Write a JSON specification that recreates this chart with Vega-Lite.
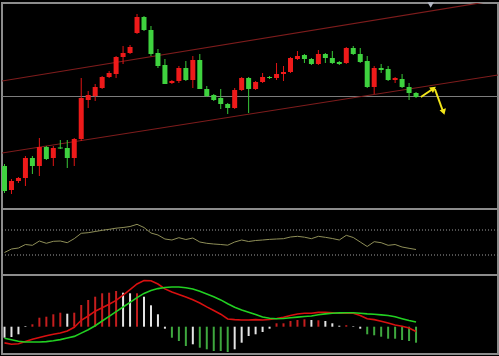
{
  "$schema": "https://vega.github.io/schema/vega-lite/v6.json",
  "background": "#000000",
  "padding": {"left": 0, "top": 1, "right": 1, "bottom": 2},
  "spacing": 0,
  "bounds": "flush",
  "config": {
    "view": {"stroke": "#8c8c8c", "strokeWidth": 2, "fill": "#000000"},
    "axis": {"disable": true},
    "concat": {"spacing": 0}
  },
  "datasets": {
    "bars": [
      {"i":0,"o":43,"h":45,"l":16,"c":18,"rsi":34,"hist":-11,"tone":"w","macd":-16.2,"sig":-11.6},
      {"i":1,"o":19,"h":30,"l":15,"c":28,"rsi":39.6,"hist":-10.3,"tone":"w","macd":-17.5,"sig":-13.1},
      {"i":2,"o":28,"h":32,"l":26,"c":31,"rsi":41.2,"hist":-7.6,"tone":"w","macd":-17,"sig":-14.5},
      {"i":3,"o":31,"h":53,"l":23,"c":51,"rsi":46.8,"hist":0.6,"tone":"w","macd":-14.8,"sig":-15.3},
      {"i":4,"o":51,"h":53,"l":35,"c":43,"rsi":45.5,"hist":2.4,"tone":"r","macd":-12.6,"sig":-15.3},
      {"i":5,"o":43,"h":71,"l":33,"c":62,"rsi":52.4,"hist":9,"tone":"r","macd":-10.8,"sig":-15.3},
      {"i":6,"o":62,"h":63,"l":49,"c":50,"rsi":48.7,"hist":10,"tone":"r","macd":-9,"sig":-14.9},
      {"i":7,"o":51,"h":63,"l":43,"c":61,"rsi":51.9,"hist":12.4,"tone":"r","macd":-7.5,"sig":-14.1},
      {"i":8,"o":61.5,"h":69,"l":60,"c":60.5,"rsi":52.4,"hist":14,"tone":"r","macd":-6.3,"sig":-12.9},
      {"i":9,"o":61,"h":69,"l":41,"c":51,"rsi":49.7,"hist":13,"tone":"w","macd":-4.3,"sig":-11.3},
      {"i":10,"o":51,"h":71,"l":43,"c":70,"rsi":56.2,"hist":14,"tone":"r","macd":-0.6,"sig":-9.7},
      {"i":11,"o":70,"h":131,"l":68,"c":111,"rsi":64.7,"hist":21.7,"tone":"r","macd":6.4,"sig":-6.4},
      {"i":12,"o":109,"h":118,"l":101,"c":114,"rsi":65.7,"hist":26.7,"tone":"r","macd":10.7,"sig":-3},
      {"i":13,"o":113,"h":125,"l":108,"c":122,"rsi":67.6,"hist":30,"tone":"r","macd":15.5,"sig":1},
      {"i":14,"o":121,"h":133,"l":120,"c":132,"rsi":69.5,"hist":33.4,"tone":"r","macd":19,"sig":5.7},
      {"i":15,"o":132,"h":138,"l":131,"c":136,"rsi":71.1,"hist":34,"tone":"r","macd":22.5,"sig":10.4},
      {"i":16,"o":135,"h":153,"l":131,"c":152,"rsi":72.9,"hist":35.7,"tone":"r","macd":26.3,"sig":15.1},
      {"i":17,"o":152,"h":163,"l":145,"c":156,"rsi":74,"hist":34,"tone":"w","macd":31.5,"sig":19.7},
      {"i":18,"o":156,"h":164,"l":155,"c":162,"rsi":75.6,"hist":33.4,"tone":"w","macd":37.1,"sig":24.4},
      {"i":19,"o":176,"h":195,"l":175,"c":192,"rsi":79.1,"hist":33.4,"tone":"r","macd":42.7,"sig":29.1},
      {"i":20,"o":192,"h":193,"l":178,"c":179,"rsi":74,"hist":30,"tone":"w","macd":46.2,"sig":33.3},
      {"i":21,"o":179,"h":183,"l":153,"c":155,"rsi":65.2,"hist":21.4,"tone":"w","macd":45.9,"sig":36.1},
      {"i":22,"o":156,"h":160,"l":141,"c":143,"rsi":62,"hist":12.4,"tone":"w","macd":42.7,"sig":38.1},
      {"i":23,"o":144,"h":150,"l":125,"c":125,"rsi":55.6,"hist":-2,"tone":"w","macd":37.8,"sig":39.2},
      {"i":24,"o":126,"h":129,"l":125,"c":128,"rsi":54,"hist":-11,"tone":"g","macd":34.7,"sig":39.7},
      {"i":25,"o":128,"h":143,"l":126,"c":141,"rsi":57.7,"hist":-14.3,"tone":"g","macd":32.3,"sig":39.7},
      {"i":26,"o":141,"h":148,"l":128,"c":129,"rsi":54.8,"hist":-19.3,"tone":"g","macd":29.7,"sig":39},
      {"i":27,"o":129,"h":153,"l":121,"c":149,"rsi":57.2,"hist":-17.6,"tone":"w","macd":26.9,"sig":37.7},
      {"i":28,"o":149,"h":155,"l":120,"c":120,"rsi":50.8,"hist":-21,"tone":"g","macd":23.7,"sig":35.4},
      {"i":29,"o":120,"h":123,"l":112,"c":113,"rsi":48.7,"hist":-22.6,"tone":"g","macd":19.8,"sig":32.7},
      {"i":30,"o":114,"h":115,"l":108,"c":109,"rsi":47.6,"hist":-24.3,"tone":"g","macd":16.2,"sig":29.9},
      {"i":31,"o":111,"h":120,"l":100,"c":105,"rsi":46.8,"hist":-24.3,"tone":"g","macd":12.5,"sig":26.8},
      {"i":32,"o":105,"h":106,"l":95,"c":101,"rsi":45.7,"hist":-25.3,"tone":"g","macd":7.7,"sig":23},
      {"i":33,"o":101,"h":121,"l":100,"c":119,"rsi":50.8,"hist":-22.6,"tone":"w","macd":7.1,"sig":19.5},
      {"i":34,"o":119,"h":132,"l":118,"c":131,"rsi":54,"hist":-16,"tone":"w","macd":6.7,"sig":16.7},
      {"i":35,"o":131,"h":132,"l":96,"c":120,"rsi":51.6,"hist":-9.3,"tone":"w","macd":6.7,"sig":14.4},
      {"i":36,"o":120,"h":128,"l":119,"c":127,"rsi":53.2,"hist":-7.6,"tone":"w","macd":7.1,"sig":12.1},
      {"i":37,"o":127,"h":136,"l":126,"c":132,"rsi":54,"hist":-5.3,"tone":"w","macd":6.7,"sig":9.7},
      {"i":38,"o":132,"h":133,"l":130,"c":131,"rsi":55,"hist":-2,"tone":"w","macd":7.2,"sig":8.4},
      {"i":39,"o":131,"h":146,"l":129,"c":135,"rsi":55.6,"hist":3.4,"tone":"r","macd":8.2,"sig":8},
      {"i":40,"o":135,"h":143,"l":128,"c":137,"rsi":56.1,"hist":3.4,"tone":"r","macd":9.5,"sig":8.2},
      {"i":41,"o":137,"h":152,"l":136,"c":151,"rsi":58.8,"hist":5.7,"tone":"r","macd":11.2,"sig":8.9},
      {"i":42,"o":150,"h":158,"l":149,"c":153,"rsi":59.9,"hist":6.7,"tone":"r","macd":12.7,"sig":9.6},
      {"i":43,"o":154,"h":155,"l":146,"c":150,"rsi":58.5,"hist":7.4,"tone":"r","macd":13.4,"sig":10.2},
      {"i":44,"o":150,"h":151,"l":144,"c":145,"rsi":56.1,"hist":6.7,"tone":"w","macd":13.4,"sig":10.7},
      {"i":45,"o":145,"h":159,"l":144,"c":155,"rsi":59.9,"hist":6.4,"tone":"r","macd":14.3,"sig":11.9},
      {"i":46,"o":155,"h":156,"l":146,"c":151,"rsi":58.3,"hist":5.7,"tone":"w","macd":14.4,"sig":12.8},
      {"i":47,"o":151,"h":158,"l":145,"c":146,"rsi":56.4,"hist":3.4,"tone":"w","macd":13.9,"sig":13.4},
      {"i":48,"o":147,"h":148,"l":144,"c":145,"rsi":54,"hist":1,"tone":"w","macd":13.5,"sig":13.8},
      {"i":49,"o":146,"h":162,"l":145,"c":161,"rsi":61.5,"hist":1.5,"tone":"r","macd":13.4,"sig":14},
      {"i":50,"o":161,"h":163,"l":154,"c":155,"rsi":58,"hist":0.5,"tone":"w","macd":13.4,"sig":13.9},
      {"i":51,"o":155,"h":161,"l":146,"c":147,"rsi":50.8,"hist":-2,"tone":"w","macd":11.2,"sig":13.4},
      {"i":52,"o":148,"h":153,"l":121,"c":122,"rsi":43.6,"hist":-7.6,"tone":"g","macd":7.9,"sig":12.8},
      {"i":53,"o":122,"h":143,"l":115,"c":141,"rsi":51.3,"hist":-8.6,"tone":"g","macd":7.1,"sig":12.4},
      {"i":54,"o":141,"h":145,"l":136,"c":139,"rsi":49.7,"hist":-10,"tone":"g","macd":5.5,"sig":11.8},
      {"i":55,"o":140,"h":143,"l":128,"c":129,"rsi":45.5,"hist":-12,"tone":"g","macd":3.7,"sig":11.2},
      {"i":56,"o":129,"h":132,"l":126,"c":131,"rsi":46.8,"hist":-12,"tone":"g","macd":1.7,"sig":9.9},
      {"i":57,"o":130,"h":135,"l":121,"c":122,"rsi":42.8,"hist":-13.3,"tone":"g","macd":0.4,"sig":8},
      {"i":58,"o":122,"h":126,"l":109,"c":116,"rsi":40.7,"hist":-14.3,"tone":"g","macd":-1.3,"sig":6.2},
      {"i":59,"o":116,"h":117,"l":111,"c":112,"rsi":38.8,"hist":-16,"tone":"g","macd":-4.8,"sig":4.7}
    ],
    "chan": [
      {"line":"upper","i":-0.358,"v":128},
      {"line":"upper","i":70.75,"v":209},
      {"line":"lower","i":-0.358,"v":56},
      {"line":"lower","i":70.75,"v":134}
    ],
    "arrows": [
      {"seg":"a","i":59.7,"v":112},
      {"seg":"a","i":61.5,"v":120.5},
      {"seg":"b","i":61.7,"v":120},
      {"seg":"b","i":62.9,"v":97}
    ]
  },
  "data": {"name": "bars"},
  "vconcat": [
    {
      "width": 496,
      "height": 206,
      "layer": [
        {
          "data": {"values": [{"level": 112.5}]},
          "mark": {"type": "rule", "color": "#7c7c7c", "strokeWidth": 1},
          "encoding": {
            "y": {"field": "level", "type": "quantitative", "scale": {"domain": [0, 206], "nice": false, "zero": false, "padding": 0}}
          }
        },
        {
          "data": {"name": "chan"},
          "mark": {"type": "line", "color": "#7e1c1c", "strokeWidth": 1.2, "clip": true},
          "encoding": {
            "x": {"field": "i", "type": "quantitative", "scale": {"domain": [-0.358, 70.75], "nice": false, "zero": false, "padding": 0}},
            "y": {"field": "v", "type": "quantitative", "scale": {"domain": [0, 206], "nice": false, "zero": false, "padding": 0}},
            "detail": {"field": "line"}
          }
        },
        {
          "mark": {"type": "rule", "strokeWidth": 1},
          "encoding": {
            "x": {"field": "i", "type": "quantitative", "scale": {"domain": [-0.358, 70.75], "nice": false, "zero": false, "padding": 0}},
            "y": {"field": "l", "type": "quantitative", "scale": {"domain": [0, 206], "nice": false, "zero": false, "padding": 0}},
            "y2": {"field": "h"},
            "color": {"condition": {"test": "datum.c > datum.o", "value": "#e01414"}, "value": "#38c838"}
          }
        },
        {
          "mark": {"type": "bar", "size": 5},
          "encoding": {
            "x": {"field": "i", "type": "quantitative", "scale": {"domain": [-0.358, 70.75], "nice": false, "zero": false, "padding": 0}},
            "y": {"field": "o", "type": "quantitative", "scale": {"domain": [0, 206], "nice": false, "zero": false, "padding": 0}},
            "y2": {"field": "c"},
            "color": {"condition": {"test": "datum.c > datum.o", "value": "#ee1a1a"}, "value": "#3fd23f"}
          }
        },
        {
          "data": {"name": "arrows"},
          "mark": {"type": "line", "color": "#f2e51a", "strokeWidth": 2},
          "encoding": {
            "x": {"field": "i", "type": "quantitative", "scale": {"domain": [-0.358, 70.75], "nice": false, "zero": false, "padding": 0}},
            "y": {"field": "v", "type": "quantitative", "scale": {"domain": [0, 206], "nice": false, "zero": false, "padding": 0}},
            "detail": {"field": "seg"}
          }
        },
        {
          "data": {"values": [{"i": 61.5, "v": 120.5}]},
          "mark": {"type": "point", "shape": "triangle-up", "filled": true, "size": 45, "angle": 55, "color": "#f2e51a", "opacity": 1},
          "encoding": {
            "x": {"field": "i", "type": "quantitative", "scale": {"domain": [-0.358, 70.75], "nice": false, "zero": false, "padding": 0}},
            "y": {"field": "v", "type": "quantitative", "scale": {"domain": [0, 206], "nice": false, "zero": false, "padding": 0}}
          }
        },
        {
          "data": {"values": [{"i": 62.95, "v": 97}]},
          "mark": {"type": "point", "shape": "triangle-up", "filled": true, "size": 45, "angle": 163, "color": "#f2e51a", "opacity": 1},
          "encoding": {
            "x": {"field": "i", "type": "quantitative", "scale": {"domain": [-0.358, 70.75], "nice": false, "zero": false, "padding": 0}},
            "y": {"field": "v", "type": "quantitative", "scale": {"domain": [0, 206], "nice": false, "zero": false, "padding": 0}}
          }
        },
        {
          "data": {"values": [{"i": 61.1, "v": 204}]},
          "mark": {"type": "point", "shape": "triangle-down", "filled": true, "size": 40, "color": "#b4b8c4", "opacity": 1},
          "encoding": {
            "x": {"field": "i", "type": "quantitative", "scale": {"domain": [-0.358, 70.75], "nice": false, "zero": false, "padding": 0}},
            "y": {"field": "v", "type": "quantitative", "scale": {"domain": [0, 206], "nice": false, "zero": false, "padding": 0}}
          }
        }
      ]
    },
    {
      "width": 496,
      "height": 66,
      "layer": [
        {
          "data": {"values": [{"lv": 70}, {"lv": 30}]},
          "mark": {"type": "rule", "color": "#a0a0a0", "strokeWidth": 1, "strokeDash": [1, 2]},
          "encoding": {
            "y": {"field": "lv", "type": "quantitative", "scale": {"domain": [-2, 103.6], "nice": false, "zero": false, "padding": 0}}
          }
        },
        {
          "mark": {"type": "line", "color": "#8f8f58", "strokeWidth": 1},
          "encoding": {
            "x": {"field": "i", "type": "quantitative", "scale": {"domain": [-0.358, 70.75], "nice": false, "zero": false, "padding": 0}},
            "y": {"field": "rsi", "type": "quantitative", "scale": {"domain": [-2, 103.6], "nice": false, "zero": false, "padding": 0}}
          }
        }
      ]
    },
    {
      "width": 496,
      "height": 79,
      "layer": [
        {
          "mark": {"type": "bar", "size": 2},
          "encoding": {
            "x": {"field": "i", "type": "quantitative", "scale": {"domain": [-0.358, 70.75], "nice": false, "zero": false, "padding": 0}},
            "y": {"field": "hist", "type": "quantitative", "scale": {"domain": [-27.3, 51.7], "nice": false, "zero": false, "padding": 0}},
            "y2": {"datum": 0},
            "color": {"field": "tone", "type": "nominal", "scale": {"domain": ["r", "w", "g"], "range": ["#c41e1e", "#e4e4e4", "#3ea83e"]}, "legend": null}
          }
        },
        {
          "mark": {"type": "line", "color": "#d81010", "strokeWidth": 1.6},
          "encoding": {
            "x": {"field": "i", "type": "quantitative", "scale": {"domain": [-0.358, 70.75], "nice": false, "zero": false, "padding": 0}},
            "y": {"field": "macd", "type": "quantitative", "scale": {"domain": [-27.3, 51.7], "nice": false, "zero": false, "padding": 0}}
          }
        },
        {
          "mark": {"type": "line", "color": "#22d022", "strokeWidth": 1.6},
          "encoding": {
            "x": {"field": "i", "type": "quantitative", "scale": {"domain": [-0.358, 70.75], "nice": false, "zero": false, "padding": 0}},
            "y": {"field": "sig", "type": "quantitative", "scale": {"domain": [-27.3, 51.7], "nice": false, "zero": false, "padding": 0}}
          }
        }
      ]
    }
  ]
}
